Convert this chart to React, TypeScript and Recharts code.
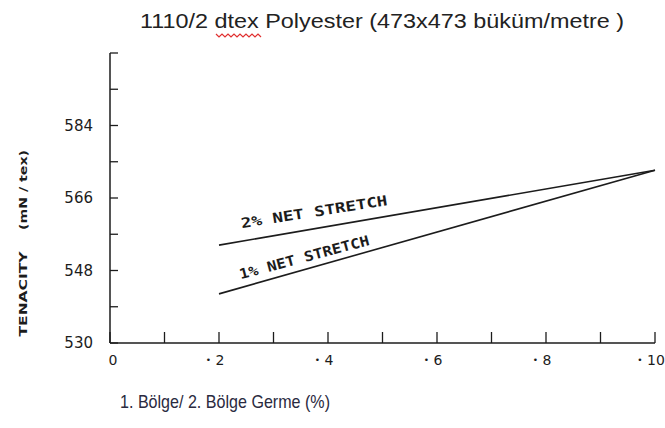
import React from 'react';
import { LineChart, Line, XAxis, YAxis, ReferenceDot } from 'recharts';

// stretch (%) positions where the curves were read
const stretchPoints = [2, 10];
const netStretch2 = [554.3, 572.9];
const netStretch1 = [542.2, 572.9];

const xTicks = [0, 1, 2, 3, 4, 5, 6, 7, 8, 9, 10];
const xTickLabels = ['0', '', '2', '', '4', '', '6', '', '8', '', '10'];
const yTicks = [530, 539, 548, 557, 566, 575, 584, 593, 602];
const yTickLabels = ['530', '', '548', '', '566', '', '584', '', ''];

const data = stretchPoints.map((x, i) => ({ x, net2: netStretch2[i], net1: netStretch1[i] }));

const ink = '#1c1c1c';
const tickFont = '"DejaVu Sans", sans-serif';
const annoFont = '"DejaVu Sans Mono", monospace';

const XTick = (props: any) => {
  const { x, y, payload } = props;
  const label = xTickLabels[xTicks.indexOf(payload.value)];
  return (
    <g>
      <line x1={x} y1={y} x2={x} y2={y - 11} stroke={ink} strokeWidth={1.3} />
      {label === '0' && (
        <text x={x + 3} y={y + 22} textAnchor="middle" fontSize={14} fontFamily={tickFont} fill={ink}>
          0
        </text>
      )}
      {label && label !== '0' && (
        <text x={x - 4} y={y + 22} textAnchor="middle" fontSize={14} fontFamily={tickFont} fill={ink}>
          <tspan fontSize={9} dy={-2}>•</tspan>
          <tspan dy={2}> {label}</tspan>
        </text>
      )}
    </g>
  );
};

const YTick = (props: any) => {
  const { x, y, payload } = props;
  const label = yTickLabels[yTicks.indexOf(payload.value)];
  return (
    <g>
      <line x1={x} y1={y} x2={x + 8} y2={y} stroke={ink} strokeWidth={1.3} />
      {label && (
        <text x={x - 17} y={y + 5} textAnchor="end" fontSize={15} fontFamily={tickFont} fill={ink}>
          {label}
        </text>
      )}
    </g>
  );
};

const stretchLabel = (text: string, angle: number, len: number) => (p: any) => (
  <text
    x={p.cx}
    y={p.cy}
    transform={`rotate(${angle} ${p.cx} ${p.cy})`}
    fontSize={14}
    fontWeight="bold"
    fontFamily={annoFont}
    fill={ink}
    textLength={len}
    lengthAdjust="spacingAndGlyphs"
  >
    {text}
  </text>
);

const squiggle = () => {
  let d = 'M216 34';
  for (let i = 0; i < 15; i++) d += ` L${219 + i * 3} ${i % 2 === 0 ? 37 : 34}`;
  return d;
};

export default function App() {
  return (
    <div style={{ position: 'absolute', left: 0, top: 0, width: 665, height: 428, background: '#fff' }}>
      <LineChart width={665} height={428} data={data} margin={{ top: 53, right: 10, left: 60, bottom: 55 }}>
        <XAxis
          dataKey="x"
          type="number"
          domain={[0, 10]}
          ticks={xTicks}
          interval={0}
          height={30}
          tickSize={0}
          tickMargin={0}
          tick={<XTick />}
          axisLine={{ stroke: ink, strokeWidth: 1.5 }}
        />
        <YAxis
          type="number"
          domain={[530, 602]}
          ticks={yTicks}
          interval={0}
          width={50}
          tickSize={0}
          tickMargin={0}
          tick={<YTick />}
          axisLine={{ stroke: ink, strokeWidth: 1.5 }}
        />
        <Line type="linear" dataKey="net2" stroke={ink} strokeWidth={1.6} dot={false} isAnimationActive={false} />
        <Line type="linear" dataKey="net1" stroke={ink} strokeWidth={1.6} dot={false} isAnimationActive={false} />
        <ReferenceDot x={2.42} y={558.5} r={0} shape={stretchLabel('2% NET STRETCH', -9, 148)} />
        <ReferenceDot x={2.4} y={545.8} r={0} shape={stretchLabel('1% NET STRETCH', -15, 134)} />
      </LineChart>
      <svg width={665} height={428} style={{ position: 'absolute', left: 0, top: 0, pointerEvents: 'none' }}>
        <text x={140} y={28} fontSize={20} fontFamily='"Liberation Sans", Arial, sans-serif' fill="#222" textLength={484} lengthAdjust="spacingAndGlyphs">
          1110/2 dtex Polyester (473x473 büküm/metre )
        </text>
        <path d={squiggle()} stroke="#e03030" strokeWidth={1.2} fill="none" />
        <text x={27} y={294} transform="rotate(-90 27 294)" textAnchor="middle" fontSize={11} fontWeight="bold" fontFamily={tickFont} fill={ink} textLength={85} lengthAdjust="spacingAndGlyphs">
          TENACITY
        </text>
        <text x={27} y={190} transform="rotate(-90 27 190)" textAnchor="middle" fontSize={11} fontWeight="bold" fontFamily={tickFont} fill={ink} textLength={80} lengthAdjust="spacingAndGlyphs">
          (mN / tex)
        </text>
        <text x={120} y={408} fontSize={19} fontFamily='"Liberation Sans", Arial, sans-serif' fill="#2a2a40" textLength={210} lengthAdjust="spacingAndGlyphs">
          1. Bölge/ 2. Bölge Germe (%)
        </text>
      </svg>
    </div>
  );
}
